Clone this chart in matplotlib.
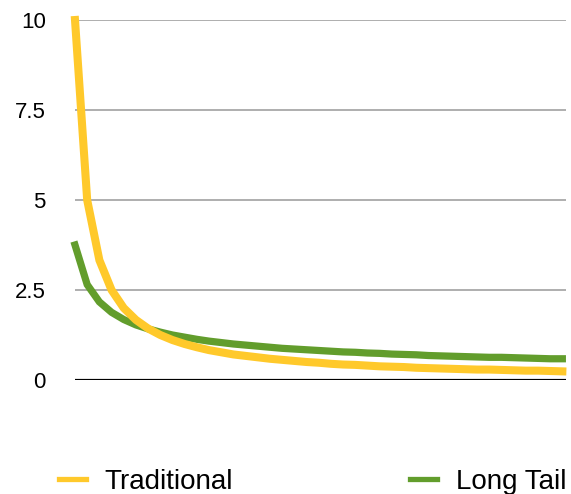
import matplotlib.pyplot as plt

plt.rcParams['font.family'] = ['Liberation Sans', 'DejaVu Sans']

# one point per step along the x axis
steps = list(range(1, 42))

traditional = [10.0, 5.0, 3.33, 2.5, 2.0, 1.67, 1.43, 1.25, 1.11, 1.0,
               0.91, 0.83, 0.77, 0.71, 0.67, 0.63, 0.59, 0.56, 0.53, 0.5,
               0.48, 0.45, 0.43, 0.42, 0.4, 0.38, 0.37, 0.36, 0.34, 0.33,
               0.32, 0.31, 0.3, 0.29, 0.29, 0.28, 0.27, 0.26, 0.26, 0.25,
               0.24]

long_tail = [3.75, 2.65, 2.17, 1.88, 1.68, 1.53, 1.42, 1.33, 1.25, 1.19,
             1.13, 1.08, 1.04, 1.0, 0.97, 0.94, 0.91, 0.88, 0.86, 0.84,
             0.82, 0.8, 0.78, 0.77, 0.75, 0.74, 0.72, 0.71, 0.7, 0.68,
             0.67, 0.66, 0.65, 0.64, 0.63, 0.63, 0.62, 0.61, 0.6, 0.59,
             0.59]

y_ticks = [0, 2.5, 5, 7.5, 10]
y_labels = ['0', '2.5', '5', '7.5', '10']

YELLOW = '#FFC92B'
GREEN = '#629D2C'

fig = plt.figure(figsize=(5.71, 4.94), dpi=100)
ax = fig.add_axes([75 / 571, 114 / 494, 491 / 571, 360 / 494])

for y in y_ticks[1:]:
    ax.axhline(y, color='#A8A8A8', lw=1.3, zorder=1)
ax.axhline(0, color='black', lw=2.3, zorder=1)

ax.plot(steps, traditional, color=YELLOW, lw=5.8, solid_joinstyle='miter',
        label='Traditional', zorder=3, clip_on=False)
ax.plot(steps, long_tail, color=GREEN, lw=5.2, solid_joinstyle='miter',
        label='Long Tail', zorder=2, clip_on=False)

ax.set_xlim(1, 41.3)
ax.set_ylim(0, 10)
ax.set_yticks(y_ticks)
ax.set_yticklabels(y_labels, fontsize=16)
ax.set_xticks([])
ax.tick_params(axis='y', length=0, pad=21)
for side in ax.spines.values():
    side.set_visible(False)

leg = fig.legend(loc='center left', bbox_to_anchor=(59 / 571, 12 / 494),
                 ncol=2, frameon=False, fontsize=20, handlelength=0.97,
                 handletextpad=0.68, columnspacing=6.35, borderaxespad=0,
                 borderpad=0)
for line in leg.get_lines():
    line.set_linewidth(3.8)

fig.savefig('out.png', dpi=100)
